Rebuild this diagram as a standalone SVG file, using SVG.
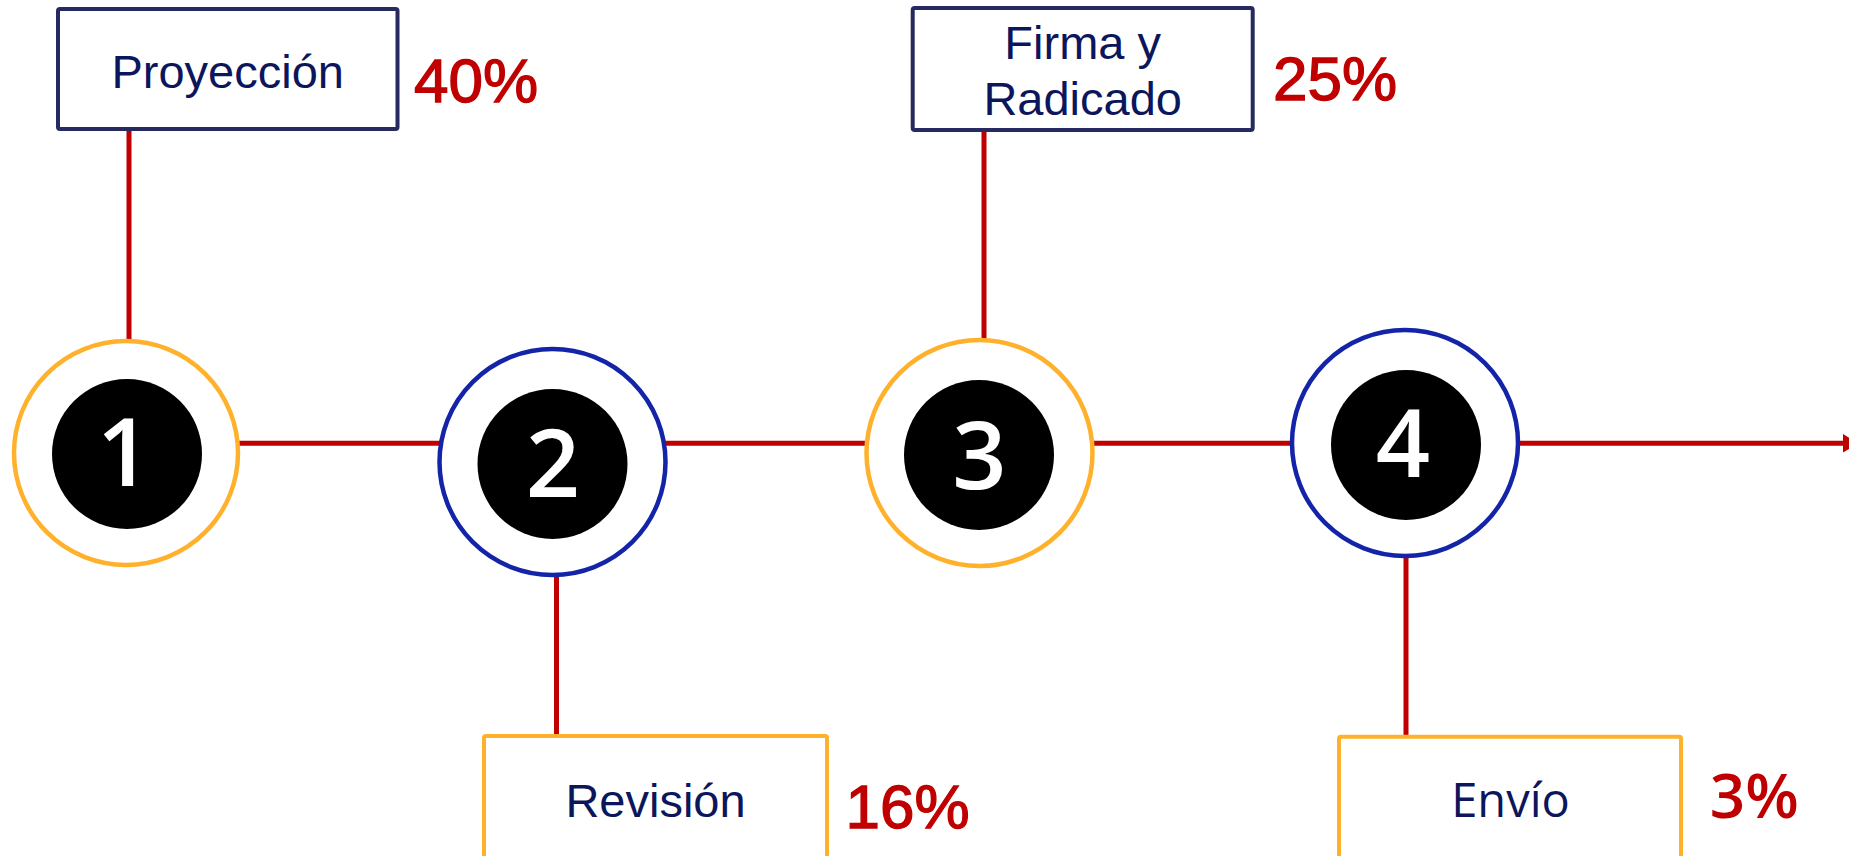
<svg xmlns="http://www.w3.org/2000/svg" width="1849" height="856" viewBox="0 0 1849 856">
<style>
.box-navy{fill:#fff;stroke:#262A5E;stroke-width:4;stroke-linejoin:round}
.box-orange{fill:#fff;stroke:#FFB12B;stroke-width:4;stroke-linejoin:round}
.ring-orange{fill:#fff;stroke:#FFB12B;stroke-width:4.5}
.ring-blue{fill:#fff;stroke:#1424A8;stroke-width:4.5}
.dot{fill:#000}
.num{fill:#fff;font-family:"Open Sans","DejaVu Sans",sans-serif;font-size:95px;font-weight:600;text-anchor:middle}
.lbl{fill:#0C165C;font-family:"Liberation Sans",Arial,sans-serif;font-size:47px;text-anchor:middle}
.lbl2{fill:#0C165C;font-family:"Open Sans","DejaVu Sans",sans-serif;font-size:47px;text-anchor:middle}
.pct{fill:#C00000;stroke:#C00000;stroke-width:1.3;font-family:"Liberation Sans",Arial,sans-serif;font-size:62px}
.pct2{fill:#C00000;font-family:"Open Sans","DejaVu Sans",sans-serif;font-size:62px;font-weight:600}
.conn{stroke:#C00000;stroke-width:5;fill:none}
</style>
<rect width="1849" height="856" fill="#fff"/>
<g id="connectors">
<line class="conn" x1="129" y1="129" x2="129" y2="340"/>
<line class="conn" x1="984" y1="130" x2="984" y2="340"/>
<line class="conn" x1="556.5" y1="576" x2="556.5" y2="736"/>
<line class="conn" x1="1406" y1="556" x2="1406" y2="737"/>
<line class="conn" x1="236" y1="443.3" x2="442" y2="443.3"/>
<line class="conn" x1="663" y1="443.3" x2="869" y2="443.3"/>
<line class="conn" x1="1090" y1="443.3" x2="1295" y2="443.3"/>
<line class="conn" x1="1515" y1="443.3" x2="1845" y2="443.3"/>
<polygon points="1843,434 1858,443.3 1843,452.6" fill="#C00000"/>
</g>
<g id="box-proyeccion">
<rect class="box-navy" x="58" y="9" width="339.5" height="120" rx="2"/>
<text class="lbl" x="227.7" y="88.3">Proyección</text>
<text class="pct" x="414" y="101.7">40%</text>
</g>
<g id="box-firma">
<rect class="box-navy" x="912.7" y="8" width="340" height="122" rx="2"/>
<text class="lbl" x="1082.7" y="59.3">Firma y</text>
<text class="lbl" x="1082.7" y="115">Radicado</text>
<text class="pct" x="1273" y="100">25%</text>
</g>
<g id="box-revision">
<rect class="box-orange" x="484" y="736" width="343" height="140" rx="2"/>
<text class="lbl" x="655.5" y="816.7">Revisión</text>
<text class="pct" x="845.5" y="828">16%</text>
</g>
<g id="box-envio">
<rect class="box-orange" x="1339" y="736.7" width="342" height="140" rx="2"/>
<text class="lbl2" x="1510.5" y="816.7">Envío</text>
<text class="pct2" x="1709.7" y="818">3%</text>
</g>
<g id="node-1">
<circle class="ring-orange" cx="126" cy="453" r="112"/>
<circle class="dot" cx="127" cy="454" r="75"/>
<text class="num" x="124" y="486">1</text>
</g>
<g id="node-2">
<circle class="ring-blue" cx="552.5" cy="462" r="113"/>
<circle class="dot" cx="552.5" cy="464" r="75"/>
<text class="num" x="553" y="497">2</text>
</g>
<g id="node-3">
<circle class="ring-orange" cx="979.5" cy="453" r="113"/>
<circle class="dot" cx="979" cy="455" r="75"/>
<text class="num" x="979.5" y="489">3</text>
</g>
<g id="node-4">
<circle class="ring-blue" cx="1405" cy="443" r="113"/>
<circle class="dot" cx="1406" cy="445" r="75"/>
<text class="num" x="1403" y="477">4</text>
</g>
</svg>
